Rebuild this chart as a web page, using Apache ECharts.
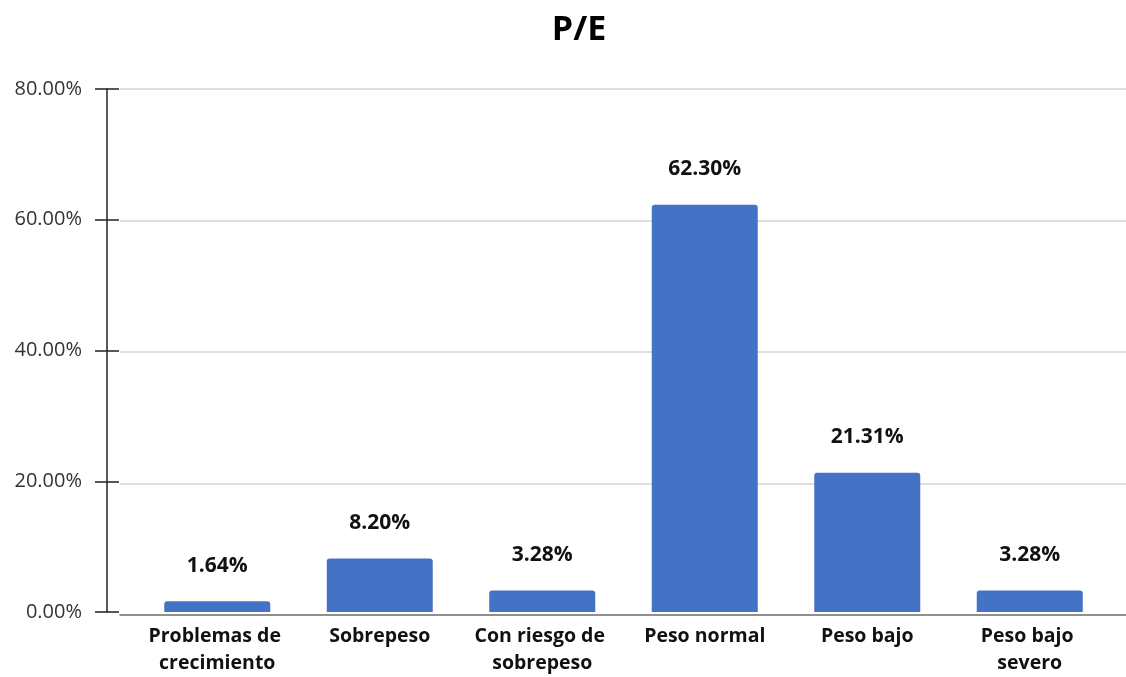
<!DOCTYPE html>
<html>
<head>
<meta charset="utf-8">
<script src="https://cdn.jsdelivr.net/npm/echarts@6/dist/echarts.min.js"></script>
<style>
html,body{margin:0;padding:0;background:#fff;}
#chart{width:1126px;height:677px;}
</style>
</head>
<body>
<div id="chart"></div>
<script>
const titleText = 'P/E';
const categories = ['Problemas de crecimiento', 'Sobrepeso', 'Con riesgo de sobrepeso', 'Peso normal', 'Peso bajo', 'Peso bajo severo'];
const values = [1.64, 8.20, 3.28, 62.30, 21.31, 3.28];
const yTicks = [0, 20, 40, 60, 80];

const FONT = 'Open Sans';
const chart = echarts.init(document.getElementById('chart'));
chart.setOption({
  animation: false,
  backgroundColor: '#ffffff',
  title: {
    text: titleText,
    left: 574,
    textAlign: 'center',
    top: 8,
    textStyle: { fontFamily: FONT, fontWeight: 'bold', fontSize: 34, color: '#000' }
  },
  grid: [
    { left: 136, right: 15, top: 89, bottom: 62 },
    { left: 120, right: 0, top: 89, bottom: 62 }
  ],
  xAxis: [
    {
      type: 'category',
      gridIndex: 0,
      data: categories,
      axisLine: { show: false },
      axisTick: { show: false },
      axisLabel: {
        interval: 0,
        margin: 11,
        width: 150,
        overflow: 'break',
        lineHeight: 27,
        fontFamily: FONT,
        fontWeight: 'bold',
        fontSize: 19.5,
        color: '#111'
      }
    },
    {
      type: 'value',
      gridIndex: 1,
      min: 0, max: 1,
      axisLine: { show: true, lineStyle: { color: '#777', width: 1.5 } },
      axisTick: { show: false },
      axisLabel: { show: false },
      splitLine: { show: false }
    }
  ],
  yAxis: [
    {
      type: 'value',
      gridIndex: 0,
      position: 'left',
      offset: 29,
      min: yTicks[0], max: yTicks[yTicks.length - 1], interval: 20,
      axisLine: { show: true, lineStyle: { color: '#222', width: 1.5 } },
      axisTick: { show: true, length: 12, lineStyle: { color: '#222', width: 1.5 } },
      axisLabel: {
        margin: 25,
        formatter: v => v.toFixed(2) + '%',
        fontFamily: FONT,
        fontSize: 20,
        color: '#333'
      },
      splitLine: { show: false }
    },
    {
      type: 'value',
      gridIndex: 0,
      position: 'left',
      offset: 29,
      min: yTicks[0], max: yTicks[yTicks.length - 1], interval: 20,
      axisLine: { show: false },
      axisTick: { show: true, inside: true, length: 12, lineStyle: { color: '#222', width: 1.5 } },
      axisLabel: { show: false },
      splitLine: { show: false }
    },
    {
      type: 'value',
      gridIndex: 1,
      min: yTicks[0], max: yTicks[yTicks.length - 1], interval: 20,
      axisLine: { show: false },
      axisTick: { show: false },
      axisLabel: { show: false },
      splitLine: { show: true, lineStyle: { color: '#d4d4d4', width: 1.5 } }
    }
  ],
  series: [
    {
      type: 'bar',
      xAxisIndex: 0,
      yAxisIndex: 0,
      data: values,
      barWidth: 106,
      itemStyle: { color: '#4472C4', borderRadius: [3, 3, 0, 0] },
      label: {
        show: true,
        position: 'top',
        distance: 25,
        formatter: p => p.value.toFixed(2) + '%',
        fontFamily: FONT,
        fontWeight: 'bold',
        fontSize: 21,
        color: '#111'
      }
    }
  ]
});
</script>
</body>
</html>
